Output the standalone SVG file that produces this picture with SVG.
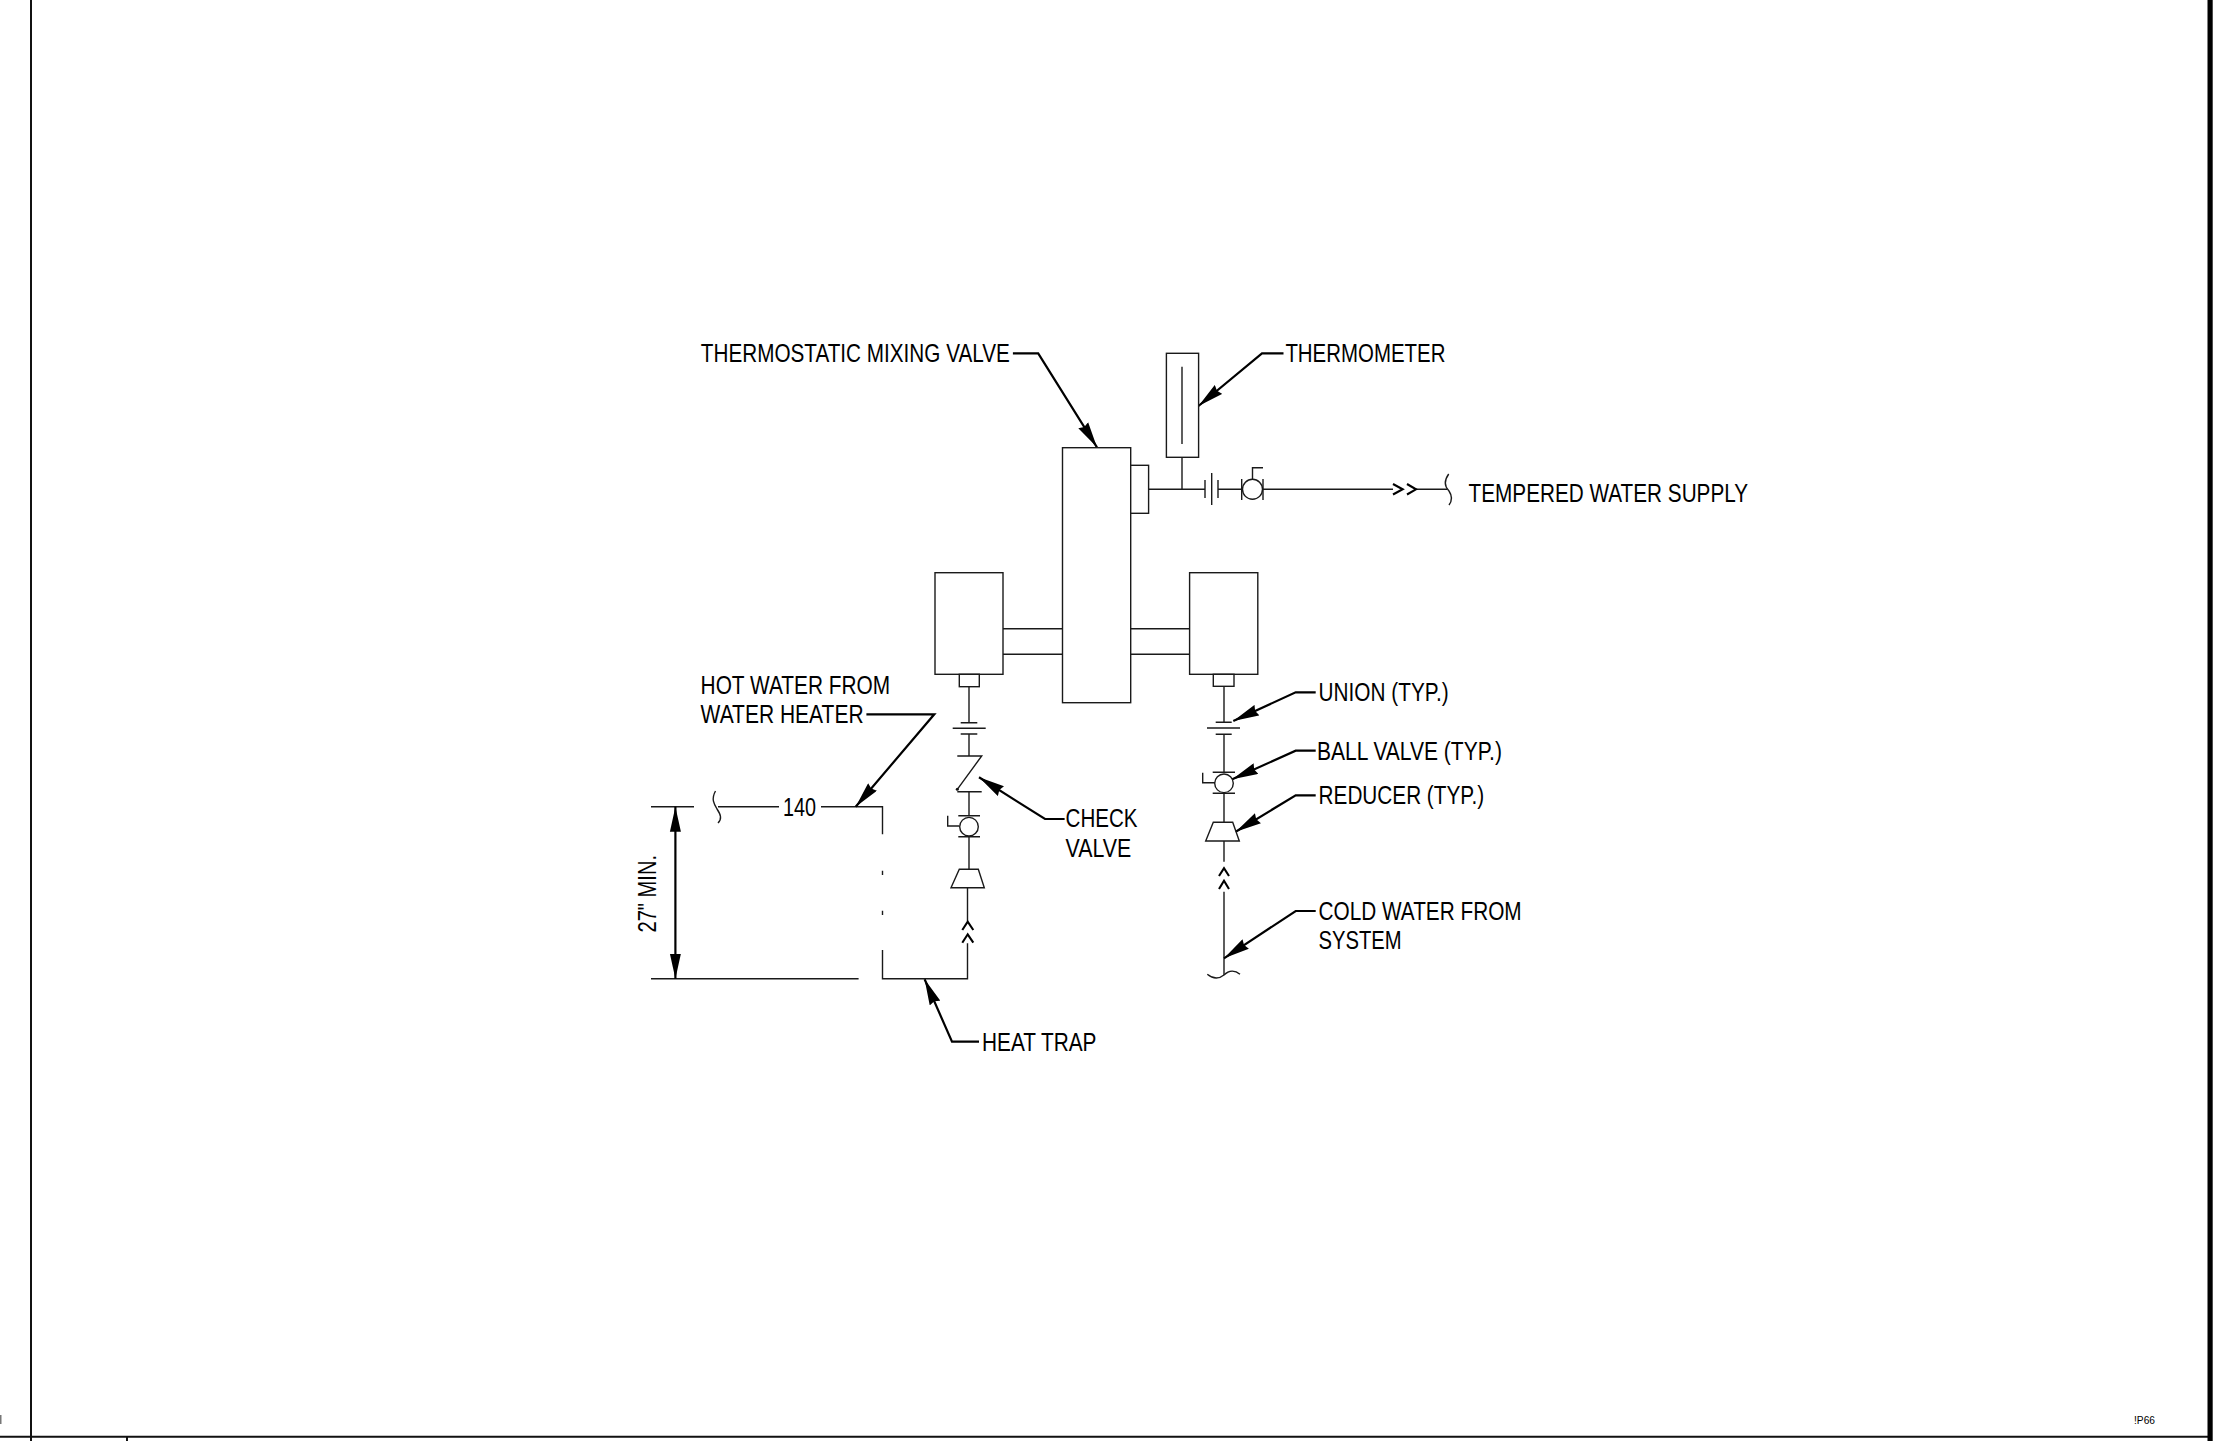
<svg xmlns="http://www.w3.org/2000/svg" width="2221" height="1441" viewBox="0 0 2221 1441">
<style>
.l{fill:none;stroke:#1a1a1a;stroke-width:1.4}
.b{fill:#fff;stroke:#1a1a1a;stroke-width:1.4}
.d{fill:none;stroke:#000;stroke-width:2.1}
.c{fill:none;stroke:#000;stroke-width:2.2}
.f{fill:none;stroke:#111;stroke-width:2}
text{font-family:"Liberation Sans",Arial,sans-serif;font-size:26px;fill:#000}
</style>
<defs>
<marker id="ah" markerUnits="userSpaceOnUse" markerWidth="27" markerHeight="12" refX="26" refY="6" orient="auto"><path d="M0,0.2 L26,6 L0,11.8 L2,6 Z" fill="#000"/></marker>
<marker id="dh" markerUnits="userSpaceOnUse" markerWidth="26" markerHeight="12" refX="25" refY="6" orient="auto-start-reverse"><path d="M0,0.5 L25,6 L0,11.5 Z" fill="#000"/></marker>
</defs>
<g id="frame">
<path class="f" d="M31,0V1441M0,1436.8H2208M127,1436.8V1441"/>
<rect x="2207.5" y="0" width="5.2" height="1441" fill="#000"/>
<rect x="0" y="1415" width="1.5" height="9" fill="#777"/>
<text x="2134" y="1423.5" style="font-size:10.5px" textLength="21" lengthAdjust="spacingAndGlyphs">!P66</text>
</g>
<g id="connectors">
<path class="l" d="M1003,628.7H1062.5M1003,654.3H1062.5M1130.7,628.7H1189.6M1130.7,654.3H1189.6"/>
<path class="l" d="M1148.6,489.3H1205M1182,457.3V489.3M1218,489.3H1241.7M1263,489.3H1393M1416,489.3H1447"/>
<path class="l" d="M969,686.7V722.7M969,734V756M969,791.7V815.7M969,836.7V869.3M967.5,887.7V921M967.5,943.3V978.7H882.5V950M882.5,834.3V806.7H821M779,806.7H718M694,806.7H651M882.5,870.7V875M882.5,910.7V915M858.6,978.7H651"/>
<path class="l" d="M1224,686.3V722.3M1224,734.3V772.3M1224,793.3V822.3M1224,841V861.7M1224,891.7V975"/>
<polyline class="c" marker-end="url(#ah)" points="1012.9,353.3 1038.2,353.3 1097,447.3"/>
<polyline class="c" marker-end="url(#ah)" points="1283.5,353.3 1262,353.3 1198.5,406"/>
<polyline class="c" marker-end="url(#ah)" points="1315.7,692.3 1295.7,692.3 1233.3,721"/>
<polyline class="c" marker-end="url(#ah)" points="1315.7,750.7 1295.7,750.7 1232.3,779.3"/>
<polyline class="c" marker-end="url(#ah)" points="1315.7,795.3 1295.7,795.3 1235.7,831.7"/>
<polyline class="c" marker-end="url(#ah)" points="1315.7,911 1295.7,911 1224,958.3"/>
<polyline class="c" marker-end="url(#ah)" points="866.4,714.3 934.3,714.3 855.7,806.7"/>
<polyline class="c" marker-end="url(#ah)" points="1064.6,819 1045,819 979,777.3"/>
<polyline class="c" marker-end="url(#ah)" points="979,1041.7 952,1041.7 924.6,979.3"/>
<line class="c" x1="675.4" y1="806.7" x2="675.4" y2="978.7" marker-start="url(#dh)" marker-end="url(#dh)"/>
</g>
<g id="mixing-valve"><rect class="b" x="1062.5" y="447.7" width="68.2" height="255"/><rect class="b" x="1130.7" y="465.3" width="17.9" height="48"/></g>
<g id="thermometer"><rect class="b" x="1166.4" y="353.3" width="32.2" height="104"/><path class="l" d="M1182,366.7V444"/></g>
<g id="hot-inlet-body"><rect class="b" x="935" y="572.7" width="68" height="101.6"/><rect class="b" x="959.3" y="674.3" width="20" height="12.4"/></g>
<g id="cold-inlet-body"><rect class="b" x="1189.6" y="572.7" width="68.2" height="101.6"/><rect class="b" x="1213.3" y="674.3" width="20.7" height="12"/></g>
<g id="tempered-union"><path class="l" d="M1205,480V498M1211.7,473V505M1218,480V498"/></g>
<g id="tempered-ball-valve"><path class="l" d="M1241.7,479V500M1263,479V500M1252.5,480V467.7H1263"/><circle class="l" cx="1252.5" cy="489.3" r="10"/></g>
<g id="tempered-break"><path class="d" d="M1393,484L1402.7,489.3L1393,494.5M1407,484L1416,489.3L1407,494.5"/><path class="l" d="M1448.7,474C1443,482 1446,488 1449,491C1453,497 1452,501 1449,505"/></g>
<g id="hot-union"><path class="l" d="M960.7,722.7H977.3M952.7,728.3H985.7M960.7,734H977.3"/></g>
<g id="check-valve"><path class="l" d="M957.3,756H981.7L957.3,789.3M957.3,791.7H981.7"/><circle cx="957.3" cy="789.3" r="1.5" fill="#111"/></g>
<g id="hot-ball-valve"><path class="l" d="M958.3,815.7H980M958.3,836.7H980M947.7,815.7V826H959.3"/><circle class="l" cx="969" cy="826.7" r="9.3"/></g>
<g id="hot-reducer"><path class="l" d="M959.3,869.3H978.3L984.3,887.7H951Z"/></g>
<g id="hot-flow"><path class="d" d="M962.3,930L967.7,921.7L973.3,930M962.3,942.7L967.7,934.3L973.3,942.7"/></g>
<g id="cold-union"><path class="l" d="M1215.7,722.3H1231.7M1207,728H1240M1215.7,734.3H1231.7"/></g>
<g id="cold-ball-valve"><path class="l" d="M1212.7,772.3H1235M1212.7,793.3H1235M1202.7,772.7V782.7H1215"/><circle class="l" cx="1224" cy="783.3" r="9.3"/></g>
<g id="cold-reducer"><path class="l" d="M1213.3,822.3H1232.7L1239.3,841H1205.7Z"/></g>
<g id="cold-flow"><path class="d" d="M1219,876L1224,868.3L1229,876M1219,889L1224,880.7L1229,889"/></g>
<g id="cold-break"><path class="l" d="M1207.3,974.3C1213,979 1219,979 1224,975C1229,970 1235,970 1240,974.3"/></g>
<g id="hot-break"><path class="l" d="M715.5,791C711,799 714,804 717,809C721,815 722,819 718,823"/></g>
<g id="labels">
<text x="700.8" y="361.7" textLength="309" lengthAdjust="spacingAndGlyphs">THERMOSTATIC MIXING VALVE</text>
<text x="1285.4" y="361.7" textLength="160" lengthAdjust="spacingAndGlyphs">THERMOMETER</text>
<text x="1468.6" y="501.7" textLength="279.5" lengthAdjust="spacingAndGlyphs">TEMPERED WATER SUPPLY</text>
<text x="700.6" y="694" textLength="189.5" lengthAdjust="spacingAndGlyphs">HOT WATER FROM</text>
<text x="700.6" y="723" textLength="163" lengthAdjust="spacingAndGlyphs">WATER HEATER</text>
<text x="1318.6" y="701.2" textLength="130" lengthAdjust="spacingAndGlyphs">UNION (TYP.)</text>
<text x="1316.9" y="760" textLength="185" lengthAdjust="spacingAndGlyphs">BALL VALVE (TYP.)</text>
<text x="1318.6" y="804" textLength="165.5" lengthAdjust="spacingAndGlyphs">REDUCER (TYP.)</text>
<text x="1318.6" y="920" textLength="203" lengthAdjust="spacingAndGlyphs">COLD WATER FROM</text>
<text x="1318.6" y="949" textLength="83" lengthAdjust="spacingAndGlyphs">SYSTEM</text>
<text x="1065.6" y="826.7" textLength="72" lengthAdjust="spacingAndGlyphs">CHECK</text>
<text x="1065.6" y="856.7" textLength="65.7" lengthAdjust="spacingAndGlyphs">VALVE</text>
<text x="982" y="1050.7" textLength="114.5" lengthAdjust="spacingAndGlyphs">HEAT TRAP</text>
<text x="783" y="815.7" textLength="33" lengthAdjust="spacingAndGlyphs">140</text>
<text transform="translate(655.7,932.5) rotate(-90)" textLength="77.5" lengthAdjust="spacingAndGlyphs">27" MIN.</text>
</g>
</svg>
